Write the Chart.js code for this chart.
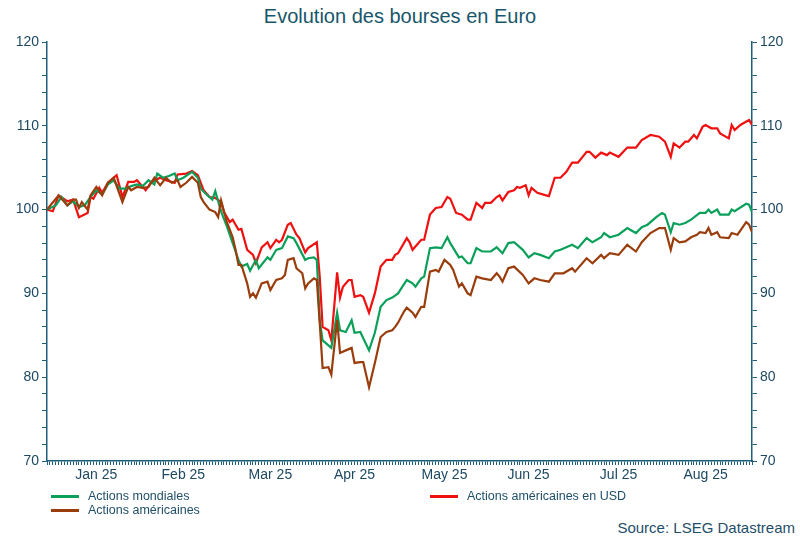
<!DOCTYPE html>
<html><head><meta charset="utf-8">
<script src="https://cdn.jsdelivr.net/npm/chart.js@4"></script>
<style>
body{margin:0;width:800px;height:540px;background:#fff;font-family:"Liberation Sans",Arial,sans-serif;position:relative;overflow:hidden}
#t{position:absolute;top:5px;left:0;width:800px;text-align:center;font-size:20px;color:#17566b}
#wrap{position:absolute;top:0;left:0;width:800px;height:490px}
.lg{position:absolute;font-size:12.5px;color:#1f4e6a;line-height:14px}
.lg span{display:inline-block;width:28px;height:3px;vertical-align:middle;margin-right:9px}
#src{position:absolute;right:5px;top:519px;font-size:15px;color:#1f4e6a}
</style></head><body>
<div id="t">Evolution des bourses en Euro</div>
<div id="wrap"><canvas id="c"></canvas></div>
<div class="lg" style="left:51px;top:489px"><span style="background:#0aa05a"></span>Actions mondiales</div>
<div class="lg" style="left:51px;top:503px"><span style="background:#9a3d0c"></span>Actions américaines</div>
<div class="lg" style="left:430px;top:489px"><span style="background:#f01010"></span>Actions américaines en USD</div>
<div id="src">Source: LSEG Datastream</div>
<script>
const monthLabels={17:"Jan 25",47:"Feb 25",77:"Mar 25",106:"Apr 25",137:"May 25",166:"Jun 25",197:"Jul 25",227:"Aug 25"};
const worldDays=[0,3,5,7,9,11,13,15,17,19,21,23,25,27,29,31,33,35,37,38,40,42,44,45,47,50,52,53,55,57,58,60,62,64,66,67,69,70,72,73,76,77,79,81,83,85,86,89,90,92,93,94,95,98,100,101,103,105,106,108,111,113,115,117,119,121,124,126,127,129,130,132,134,136,138,139,142,143,145,146,148,150,153,155,157,159,161,164,166,168,170,173,175,177,181,183,186,188,191,192,194,197,200,203,205,207,210,212,213,215,216,218,220,222,225,227,228,229,231,232,235,236,237,241,242,243];
const worldVals=[100,100.5,101.5,100.5,101,100.3,100.5,101.5,102.3,101.8,103,103.5,102.5,102.5,102.8,103,102.8,103.5,103,104.3,103.8,104,104.3,103.5,103.8,104.5,103.8,102.5,101.8,101.2,102.2,99.8,98,96,94,93.2,93.5,92.7,94,93,94.3,94,95.2,95.4,96.8,96.6,96,94,94.2,94.3,94,86.8,84.4,83.5,87.7,85.6,85.4,86.8,85.3,85.4,83.2,85.3,88.4,89.2,89.5,90,91.6,91.2,90.8,91.8,92,95.4,95.5,95.4,96.7,96,94.3,94.4,93.6,93.6,95.4,95,95,95.5,94.8,96,96.1,95.2,94.3,94.8,94.6,94.2,95,95.2,95.8,95.4,96.6,96.1,96.7,97.2,96.7,97,97.8,97.2,97.9,98.2,99.1,99.6,99.4,97.3,98.4,98.2,98.4,98.8,99.6,99.6,100,99.6,100,99.4,99.4,100,99.8,100.7,100.6,99.7];
const usdDays=[0,2,4,7,9,11,14,15,16,18,19,21,24,26,28,30,31,34,36,39,41,44,45,48,50,52,54,56,58,60,61,63,64,66,67,69,71,72,74,76,77,79,80,81,83,84,86,87,89,90,93,94,95,97,98,100,101,102,104,105,106,108,109,111,113,115,117,119,120,121,124,125,126,129,130,132,134,136,138,139,141,143,145,146,148,150,151,153,155,156,157,159,161,162,163,165,166,167,169,172,173,175,177,179,181,183,186,187,189,191,193,194,197,200,203,205,208,211,213,215,216,218,220,221,223,224,226,227,229,231,232,235,236,237,239,240,242,243];
const usdVals=[100,99.8,101.7,101,101.2,99.1,99.6,101.5,101.3,102.6,102,103.2,104.1,101.5,103.3,103.3,103.5,102.3,103.3,103.8,103.5,103.2,104.2,104.3,104.6,104.1,102.3,101.5,101.4,100.9,99.7,98.5,98.8,97.6,97.7,95.2,94.6,93.6,95.5,96.1,95.4,96.4,96.1,96.4,98.2,98.4,97,96.6,94.9,95.4,96.1,92,86,85.6,84.4,92.5,89.5,90.8,91.6,91.6,89.6,89.8,89.6,87.7,90,93.2,94,94,94.6,94.8,96.6,96.1,95.2,96.4,96.4,99.4,100.2,100.3,101.5,101.3,99.6,99.4,98.8,98.8,100.8,100.2,100.8,100.8,101.5,101.7,101.1,102.1,102.3,102.7,102.6,102.9,101.7,102.6,102,101.7,101.6,103.8,103.8,104.5,105.6,105.6,106.9,106.9,106.2,106.8,106.5,106.8,106.3,107.4,107.4,108.3,108.9,108.7,108.1,106.3,107.9,107.4,108.1,108.1,108.9,108.5,109.9,110.1,109.7,109.7,109.1,108.5,110.1,109.5,110.1,110.3,110.7,110.1];
const usEurDays=[0,4,7,9,10,11,12,14,15,17,19,21,23,26,28,29,31,33,35,37,39,41,43,45,46,48,50,52,53,54,56,58,59,60,62,64,65,66,67,69,70,71,72,74,76,77,79,81,82,83,85,86,88,89,90,92,93,94,95,97,98,100,101,103,105,106,108,109,111,113,115,117,119,120,121,123,124,126,127,129,130,132,134,135,137,139,140,142,143,145,146,148,150,153,155,156,157,159,161,164,166,168,170,173,175,178,181,182,186,188,191,192,194,197,200,203,205,208,211,213,215,216,218,220,222,224,225,227,228,229,231,232,235,236,238,241,242,243];
const usEurVals=[100,101.7,100.5,101.2,101.2,100.2,100.9,100,101.7,102.7,101.7,103.2,103.8,100.9,102.7,102.3,102.7,102.6,102.7,103.8,102.9,103.8,103.2,103.5,102.7,103.2,103.9,103.2,101.5,100.9,100,99.7,99.1,101.1,98.5,96.7,95.2,93.4,93.4,91.2,89.6,90,89.5,91.2,91.4,90.4,91.6,91.8,92.2,94,94.2,93,92.4,90.6,91.2,91.8,91.6,86.5,81.1,81.2,80.3,86.8,82.9,83.2,83.5,81.7,81.8,81.8,78.8,81.7,84.8,85.4,85.6,86,86.5,87.8,88.3,87.7,87.2,88.4,88.4,92.6,92.8,92.6,94,93.4,92.8,90.8,91.2,90,89.8,92,91.8,91.6,92.4,92,91.4,93,93.2,92.2,91.2,91.8,91.6,91.4,92.4,92.4,93,92.6,94.2,93.6,94.6,94.2,94.8,94.6,95.8,95,96.1,97.2,97.8,97.8,95.2,96.6,96.1,96.2,96.7,97,97.3,97.2,97.8,97,97.3,96.7,96.6,97.2,97,98.5,98.2,97.3];
const yTickLabels=[70,80,90,100,110,120];
const pts=(d,v)=>d.map((x,i)=>({x,y:v[i]}));
const axisCol="#1f5f7a", txt="#1d4863";
const ds=(data,col)=>({data,borderColor:col,borderWidth:2.2,pointRadius:0,tension:0,fill:false});
const yOpt=(pos)=>({position:pos,min:70,max:120,
  afterBuildTicks:a=>{a.ticks=[];for(let v=70;v<=120;v+=2)a.ticks.push({value:v});},
  afterFit:s=>{s.width=pos==='left'?47:48;},
  border:{color:axisCol,width:1.5},
  grid:{drawOnChartArea:false,color:axisCol,tickLength:5},
  ticks:{autoSkip:false,color:txt,font:{size:14,family:"Liberation Sans"},padding:3,callback:v=>yTickLabels.includes(v)?v:''}});
new Chart(document.getElementById('c'),{type:'line',
 data:{datasets:[ds(pts(usEurDays,usEurVals),'#9a3d0c'),ds(pts(worldDays,worldVals),'#0aa05a'),ds(pts(usdDays,usdVals),'#f01010')]},
 options:{responsive:true,maintainAspectRatio:false,animation:false,
  layout:{padding:{top:42,left:0,right:0,bottom:0}},
  plugins:{legend:{display:false},tooltip:{enabled:false}},
  scales:{
   x:{type:'linear',min:0,max:243,
    afterBuildTicks:a=>{a.ticks=[];for(let d=0;d<=243;d++)a.ticks.push({value:d});},
    afterFit:s=>{s.height=29;},
    border:{color:axisCol,width:1.5},
    grid:{drawOnChartArea:false,color:axisCol,tickLength:4},
    ticks:{autoSkip:false,maxRotation:0,color:txt,font:{size:14,family:"Liberation Sans"},padding:2,callback:v=>monthLabels[v]||''}},
   y:yOpt('left'),y2:yOpt('right')}}});
</script></body></html>
